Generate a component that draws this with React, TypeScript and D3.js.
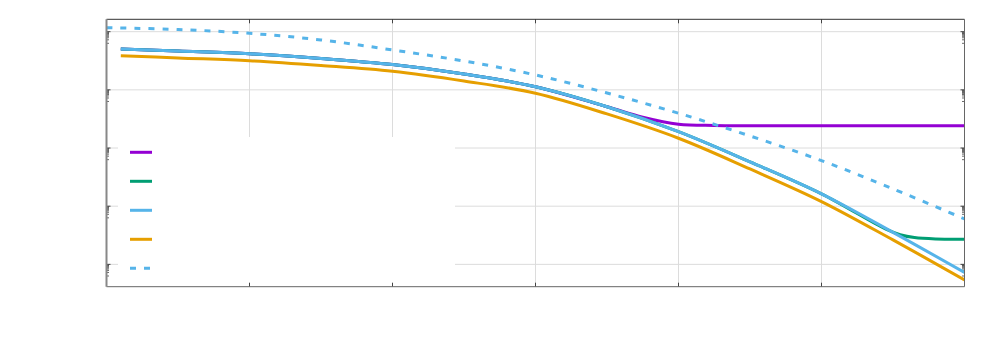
import { useEffect, useRef } from 'react';
import * as d3 from 'd3';

// x positions (linear axis, 0..6) and curves as log10 of the plotted value
const xTicks = [0, 1, 2, 3, 4, 5, 6];
const yGrid = [1e0, 1e-5, 1e-10, 1e-15, 1e-20];

const blueX = [0.1, 0.5, 1, 1.5, 2, 2.5, 3, 3.5, 4, 4.5, 5, 5.5, 6];
const blueLog = [-1.48, -1.66, -1.89, -2.30, -2.82, -3.63, -4.73, -6.45, -8.59, -11.19, -13.94, -17.25, -20.70];

const orangeX = [0.1, 0.5, 1, 1.5, 2, 2.5, 3, 3.5, 4, 4.5, 5, 5.5, 6];
const orangeLog = [-2.06, -2.26, -2.49, -2.90, -3.40, -4.24, -5.29, -7.07, -9.16, -11.80, -14.60, -17.90, -21.33];

const purpleX = [0.1, 0.5, 1, 1.5, 2, 2.5, 3, 3.5, 3.75, 4, 4.25, 4.5, 5, 5.5, 6];
const purpleLog = [-1.48, -1.66, -1.89, -2.30, -2.82, -3.63, -4.73, -6.45, -7.35, -7.95, -8.06, -8.08, -8.08, -8.08, -8.08];

const greenX = [0.1, 0.5, 1, 1.5, 2, 2.5, 3, 3.5, 4, 4.5, 5, 5.45, 5.55, 5.65, 5.8, 6];
const greenLog = [-1.48, -1.66, -1.89, -2.30, -2.82, -3.63, -4.73, -6.45, -8.59, -11.19, -13.94, -16.98, -17.45, -17.70, -17.82, -17.84];

const dashX = [0, 0.5, 1, 1.5, 2, 2.5, 3, 3.5, 4, 4.5, 5, 5.5, 6];
const dashLog = [0.34, 0.19, -0.14, -0.71, -1.57, -2.52, -3.72, -5.27, -7.01, -8.96, -11.08, -13.51, -16.09];

const series = [
  { name: 'purple', xs: purpleX, ys: purpleLog, color: '#9400d3', dash: null },
  { name: 'green', xs: greenX, ys: greenLog, color: '#009e73', dash: null },
  { name: 'blue', xs: blueX, ys: blueLog, color: '#56b4e9', dash: null },
  { name: 'orange', xs: orangeX, ys: orangeLog, color: '#e69f00', dash: null },
  { name: 'dashed', xs: dashX, ys: dashLog, color: '#56b4e9', dash: '6,8' },
];

const buildChart = (el: SVGSVGElement) => {
  const svg = d3.select(el);
  svg.selectAll('*').remove();

  const left = 106.5, right = 964.5, top = 19.3, bottom = 286.7;

  const x = d3.scaleLinear().domain([0, 6]).range([left, right]);
  const y = d3.scaleLog().domain([Math.pow(10, -21.92), Math.pow(10, 1.065)]).range([bottom, top]);

  svg.append('rect').attr('width', 1000).attr('height', 350).attr('fill', '#fff');

  // grid
  const grid = svg.append('g').attr('stroke', '#dcdcdc').attr('stroke-width', 1);
  xTicks.slice(1, -1).forEach((t) => {
    grid.append('line').attr('x1', x(t)).attr('x2', x(t)).attr('y1', top).attr('y2', bottom);
  });
  yGrid.forEach((v) => {
    grid.append('line').attr('x1', left).attr('x2', right).attr('y1', y(v)).attr('y2', y(v));
  });

  // legend background (covers grid)
  svg.append('rect')
    .attr('x', 118).attr('y', 137).attr('width', 337).attr('height', 149)
    .attr('fill', '#fff');

  // ticks
  const ticks = svg.append('g').attr('stroke', '#444').attr('stroke-width', 1);
  xTicks.slice(1, -1).forEach((t) => {
    ticks.append('line').attr('x1', x(t)).attr('x2', x(t)).attr('y1', bottom).attr('y2', bottom - 4);
    ticks.append('line').attr('x1', x(t)).attr('x2', x(t)).attr('y1', top).attr('y2', top + 4);
  });
  yGrid.forEach((v) => {
    ticks.append('line').attr('x1', left).attr('x2', left + 4).attr('y1', y(v)).attr('y2', y(v));
    ticks.append('line').attr('x1', right).attr('x2', right - 4).attr('y1', y(v)).attr('y2', y(v));
    for (let m = 1; m <= 9; m++) {
      const yy = y(v * m / 10);
      ticks.append('line').attr('x1', left).attr('x2', left + 2.5).attr('y1', yy).attr('y2', yy).attr('stroke-width', 0.8);
      ticks.append('line').attr('x1', right).attr('x2', right - 2.5).attr('y1', yy).attr('y2', yy).attr('stroke-width', 0.8);
    }
  });

  // curves
  const clip = svg.append('clipPath').attr('id', 'plotclip');
  clip.append('rect').attr('x', left).attr('y', top).attr('width', right - left).attr('height', bottom - top);

  const line = d3.line<[number, number]>()
    .x((d) => x(d[0]))
    .y((d) => y(Math.pow(10, d[1])))
    .curve(d3.curveCatmullRom.alpha(0.5));

  const plot = svg.append('g').attr('clip-path', 'url(#plotclip)');
  series.forEach((s) => {
    const pts: [number, number][] = s.xs.map((xv, i) => [xv, s.ys[i]]);
    plot.append('path')
      .attr('d', line(pts))
      .attr('fill', 'none')
      .attr('stroke', s.color)
      .attr('stroke-width', 3)
      .attr('stroke-dasharray', s.dash);
  });

  // frame
  svg.append('line').attr('x1', left).attr('x2', right).attr('y1', top).attr('y2', top).attr('stroke', '#333');
  svg.append('line').attr('x1', left).attr('x2', right).attr('y1', bottom).attr('y2', bottom).attr('stroke', '#666');
  svg.append('line').attr('x1', right).attr('x2', right).attr('y1', top).attr('y2', bottom).attr('stroke', '#666');
  svg.append('line').attr('x1', left).attr('x2', left).attr('y1', top).attr('y2', bottom).attr('stroke', '#888').attr('stroke-width', 2);

  // legend entries (labels are empty in the reference)
  const legend = svg.append('g');
  series.forEach((s, i) => {
    const ly = 152.3 + i * 29;
    legend.append('line')
      .attr('x1', 130).attr('x2', 152).attr('y1', ly).attr('y2', ly)
      .attr('stroke', s.color).attr('stroke-width', 3)
      .attr('stroke-dasharray', s.dash);
  });
};

const App = () => {
  const ref = useRef<SVGSVGElement>(null);

  useEffect(() => {
    if (ref.current) buildChart(ref.current);
  }, []);

  return (
    <div style={{ position: 'absolute', left: 0, top: 0, width: 1000, height: 350 }}>
      <svg ref={ref} width={1000} height={350}></svg>
    </div>
  );
};

export default App;
